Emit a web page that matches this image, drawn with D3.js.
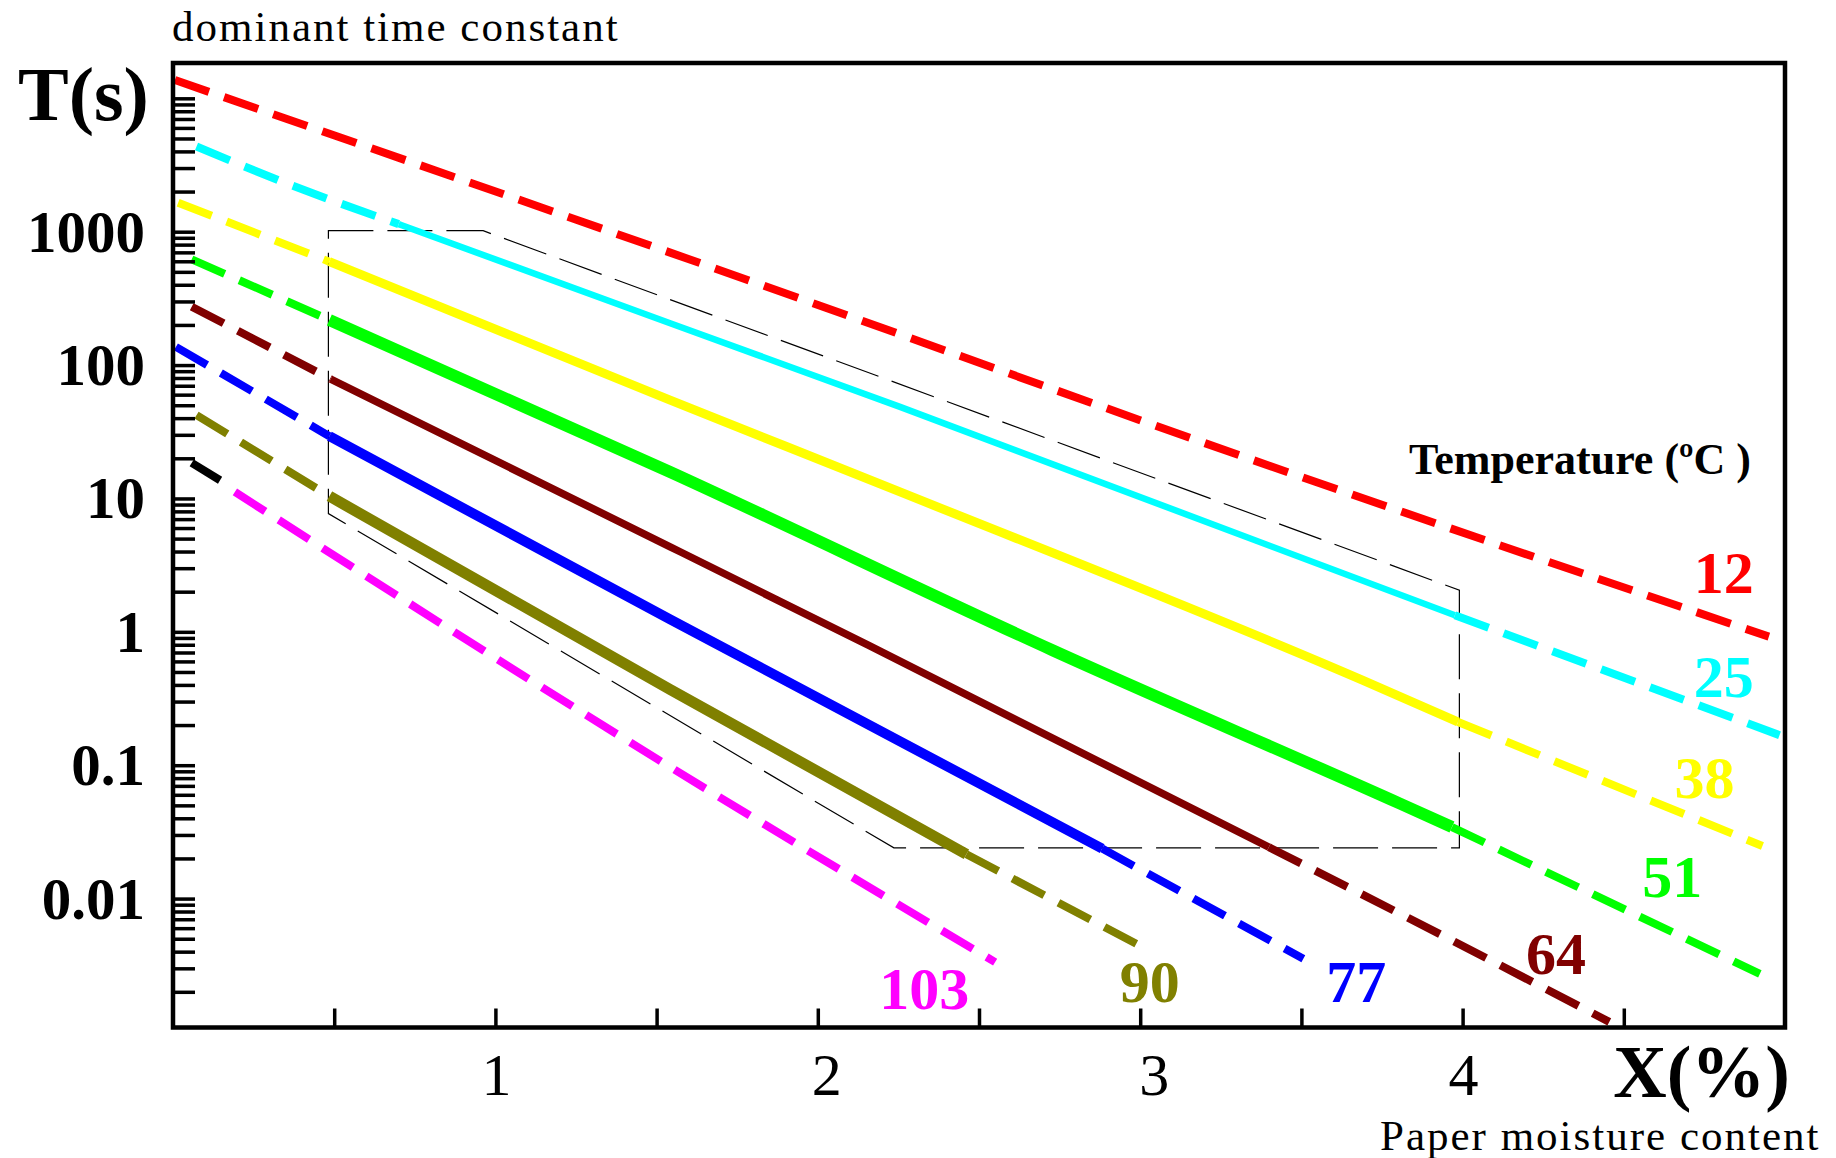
<!DOCTYPE html>
<html>
<head>
<meta charset="utf-8">
<script src="https://cdn.jsdelivr.net/npm/d3@7"></script>
<style>
  html, body { margin: 0; padding: 0; background: #fff; }
  svg { display: block; }
  text { font-family: "Liberation Serif", "Times New Roman", serif; }
</style>
</head>
<body>
<svg id="chart"></svg>
<script>
// Temperature of each model curve (degC)
var temps = [12, 25, 38, 51, 64, 77, 90, 103];
var colors = ["#ff0000", "#00ffff", "#ffff00", "#00ff00", "#800000", "#0000ff", "#808000", "#ff00ff"];

// Curves: [X (%), T (s)]
var curve12 = [[0.006, 13700], [1.54, 700], [3.5, 14.5], [4.95, 0.92]];
var curve25 = [[0.073, 4350], [0.353, 2300], [0.70, 1140], [1.542, 206], [2.255, 48.6], [3.976, 1.33], [4.983, 0.168]];
var curve38 = [[0.016, 1650], [0.485, 596], [1.542, 54.6], [2.255, 11.2], [3.691, 0.433], [3.986, 0.211], [4.93, 0.0248]];
var curve51 = [[0.058, 621], [0.485, 218], [1.542, 15.8], [2.728, 0.728], [3.806, 0.0515], [3.967, 0.0344], [4.922, 0.00273]];
var curve64 = [[0.058, 274], [0.489, 78.5], [1.542, 4.34], [2.158, 0.79], [3.399, 0.0243], [3.806, 0.0077], [4.455, 0.00119]];
var curve77 = [[0.009, 137], [0.485, 29.3], [1.542, 1.24], [2.882, 0.0237], [3.506, 0.00354]];
var curve90 = [[0.073, 42.2], [0.485, 10.4], [1.542, 0.37], [2.461, 0.0215], [3.007, 0.00433]];
var curve103 = [[0.192, 11.2], [1.542, 0.097], [2.55, 0.00334]];
var curves = [curve12, curve25, curve38, curve51, curve64, curve77, curve90, curve103];

// X range over which each curve is drawn solid (null = dashed everywhere)
var solidFrom = [null, 0.70, 0.485, 0.485, 0.489, 0.485, 0.485, null];
var solidTo   = [null, 3.976, 3.986, 3.967, 3.399, 2.882, 2.461, null];

// The single black dash at the head of the 103 curve
var blackDash = [[0.058, 18.5], [0.146, 13.7]];

// Outline of the measured region (thin dashed polygon)
var region = [[0.482, 1017], [0.962, 1017], [3.99, 2.05], [3.99, 0.024], [2.236, 0.024], [0.482, 7.7]];

// Temperature labels, anchored in data units (centre x, baseline T)
var labelX = [4.81, 4.81, 4.75, 4.65, 4.29, 3.67, 3.03, 2.33];
var labelT = [1.94, 0.325, 0.0565, 0.0102, 0.00273, 0.00167, 0.00167, 0.00149];

var xTicks = [0.5, 1, 1.5, 2, 2.5, 3, 3.5, 4, 4.5];
var xTickLabels = [1, 2, 3, 4];
var yTickLabels = ["0.01", "0.1", "1", "10", "100", "1000"];

//////////// Layout

var WIDTH = 1836,
	HEIGHT = 1158,
	LEFT = 173, RIGHT = 1785,
	TOP = 63, BOTTOM = 1027.5;

// a few x labels sit slightly right of their tick in the original
var X_LABEL_SHIFT = {1: 1, 2: 9, 3: 14, 4: 1};

var svg = d3.select("#chart")
	.attr("width", WIDTH)
	.attr("height", HEIGHT);

svg.append("rect")
	.attr("width", WIDTH)
	.attr("height", HEIGHT)
	.attr("fill", "#fff");

var x = d3.scaleLinear().domain([0, 5]).range([LEFT, RIGHT]);
var y = d3.scaleLog().domain([0.00108, 18400]).range([BOTTOM, TOP]);

svg.append("clipPath").attr("id", "plot")
  .append("rect")
	.attr("x", LEFT).attr("y", TOP)
	.attr("width", RIGHT - LEFT).attr("height", BOTTOM - TOP);

var line = d3.line()
	.x(function(d) { return x(d[0]); })
	.y(function(d) { return y(d[1]); });

// curves are smooth in the original, so soften the joints a little
var smooth = d3.line()
	.curve(d3.curveMonotoneX)
	.x(function(d) { return x(d[0]); })
	.y(function(d) { return y(d[1]); });

var plot = svg.append("g").attr("clip-path", "url(#plot)");

//////////// Measured region

plot.append("path")
	.datum(region)
	.attr("d", function(d) { return line(d) + "Z"; })
	.attr("fill", "none")
	.attr("stroke", "#000")
	.attr("stroke-width", 1.2)
	.attr("stroke-dasharray", "45,14");

//////////// Curves

var SOLID_WIDTH = [0, 6.5, 9, 12, 7.5, 10, 11, 0],
	DASH_WIDTH = 8;

curves.forEach(function(pts, i) {
	var a = solidFrom[i], b = solidTo[i];
	var parts = [];
	if (a === null) {
		parts.push({pts: pts, solid: false});
	} else {
		parts.push({pts: pts.filter(function(p) { return p[0] <= a; }), solid: false});
		parts.push({pts: pts.filter(function(p) { return p[0] >= a && p[0] <= b; }), solid: true});
		parts.push({pts: pts.filter(function(p) { return p[0] >= b; }), solid: false});
	}
	parts.forEach(function(part) {
		plot.append("path")
			.datum(part.pts)
			.attr("d", smooth)
			.attr("fill", "none")
			.attr("stroke", colors[i])
			.attr("stroke-width", part.solid ? SOLID_WIDTH[i] : DASH_WIDTH)
			.attr("stroke-linejoin", "round")
			.attr("stroke-dasharray", part.solid ? null : "36,16");
	});
});

plot.append("path")
	.datum(blackDash)
	.attr("d", line)
	.attr("fill", "none")
	.attr("stroke", "#000")
	.attr("stroke-width", DASH_WIDTH);

//////////// Axes

var yTicks = [];
for (var e = -3; e <= 4; e++) {
	for (var m = 1; m <= 9; m++) {
		var v = m * Math.pow(10, e);
		if (v >= y.domain()[0] && v <= y.domain()[1]) yTicks.push(v);
	}
}

var yAxis = svg.append("g")
	.attr("transform", "translate(" + LEFT + ",0)")
	.call(d3.axisLeft(y).tickValues(yTicks).tickSize(-22).tickFormat(""));

var xAxis = svg.append("g")
	.attr("transform", "translate(0," + BOTTOM + ")")
	.call(d3.axisBottom(x).tickValues(xTicks).tickSize(-19).tickFormat(""));

[yAxis, xAxis].forEach(function(g) {
	g.select(".domain").remove();
	g.selectAll(".tick line")
		.attr("stroke", "#000")
		.attr("stroke-width", 3.5);
});

// Frame
svg.append("rect")
	.attr("x", LEFT).attr("y", TOP)
	.attr("width", RIGHT - LEFT).attr("height", BOTTOM - TOP)
	.attr("fill", "none")
	.attr("stroke", "#000")
	.attr("stroke-width", 4.5);

// Y labels
svg.selectAll("text.ylab")
	.data(yTickLabels)
  .enter().append("text")
	.attr("class", "ylab")
	.text(function(d) { return d; })
	.attr("x", 145)
	.attr("y", function(d) { return y(+d) + 20; })
	.attr("text-anchor", "end")
	.attr("font-weight", "bold")
	.attr("font-size", 59);

// X labels
svg.selectAll("text.xlab")
	.data(xTickLabels)
  .enter().append("text")
	.attr("class", "xlab")
	.text(function(d) { return d; })
	.attr("x", function(d) { return x(d) + X_LABEL_SHIFT[d]; })
	.attr("y", 1095)
	.attr("text-anchor", "middle")
	.attr("font-size", 60);

// Temperature labels at the end of each curve
svg.selectAll("text.tlab")
	.data(temps)
  .enter().append("text")
	.attr("class", "tlab")
	.text(function(d) { return d; })
	.attr("x", function(d, i) { return x(labelX[i]); })
	.attr("y", function(d, i) { return y(labelT[i]); })
	.attr("text-anchor", "middle")
	.attr("font-weight", "bold")
	.attr("font-size", 60)
	.attr("fill", function(d, i) { return colors[i]; });

//////////// Titles

svg.append("text")
	.text("dominant time constant")
	.attr("x", 172).attr("y", 41)
	.attr("font-size", 43)
	.attr("letter-spacing", 2);

svg.append("text")
	.text("T(s)")
	.attr("x", 18).attr("y", 120)
	.attr("font-size", 76)
	.attr("font-weight", "bold");

svg.append("text")
	.text("X(%)")
	.attr("x", 1790).attr("y", 1097)
	.attr("text-anchor", "end")
	.attr("font-size", 74)
	.attr("font-weight", "bold");

svg.append("text")
	.text("Paper moisture content")
	.attr("x", 1380).attr("y", 1150)
	.attr("font-size", 43)
	.attr("letter-spacing", 2);

svg.append("text")
	.text("Temperature (\u00baC )")
	.attr("x", 1751).attr("y", 474)
	.attr("text-anchor", "end")
	.attr("font-size", 44)
	.attr("font-weight", "bold");
</script>
</body>
</html>
